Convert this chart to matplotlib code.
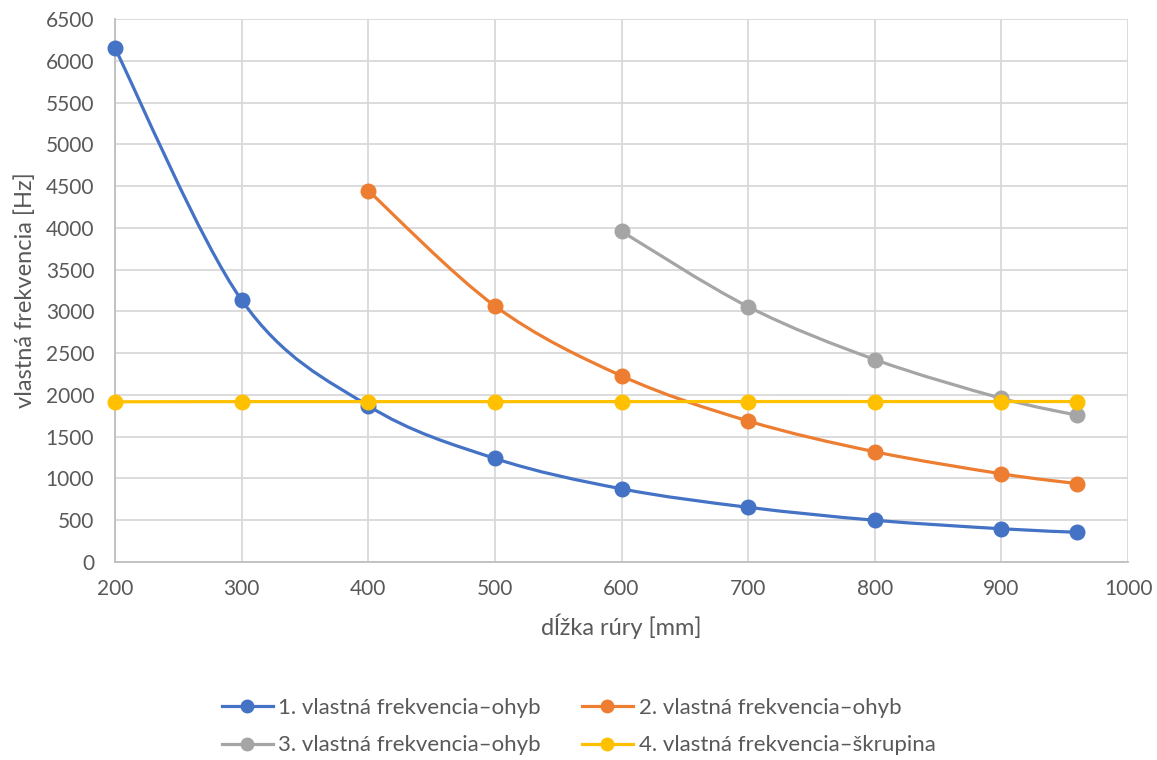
"""Vlastné frekvencie rúry v závislosti od dĺžky."""

import matplotlib

matplotlib.use("Agg")
import matplotlib.pyplot as plt
import numpy as np
from matplotlib.lines import Line2D
from matplotlib.patches import PathPatch
from matplotlib.path import Path

plt.rcParams["font.family"] = ["Lato", "DejaVu Sans"]

# data
dlzka_all = [200, 300, 400, 500, 600, 700, 800, 900, 960]
f1_ohyb = [6150, 3135, 1870, 1240, 876, 655, 500, 398, 356]

dlzka_2 = [400, 500, 600, 700, 800, 900, 960]
f2_ohyb = [4445, 3065, 2228, 1688, 1320, 1056, 938]

dlzka_3 = [600, 700, 800, 900, 960]
f3_ohyb = [3958, 3056, 2424, 1960, 1756]

f4_skrupina = [1918, 1920, 1920, 1920, 1920, 1921, 1921, 1921, 1921]

labels = [
    "1. vlastná frekvencia–ohyb",
    "2. vlastná frekvencia–ohyb",
    "3. vlastná frekvencia–ohyb",
    "4. vlastná frekvencia–škrupina",
]
colors = ["#4472C4", "#ED7D31", "#A5A5A5", "#FFC000"]
TEXT = "#595959"


def smooth_path(xs, ys):
    """Excel-like smoothed line as cubic Bezier segments (Catmull-Rom)."""
    p = np.column_stack([xs, ys]).astype(float)
    ext = np.vstack([p[0], p, p[-1]])
    verts = [p[0]]
    codes = [Path.MOVETO]
    for i in range(len(p) - 1):
        p0, p1, p2, p3 = ext[i], ext[i + 1], ext[i + 2], ext[i + 3]
        verts += [p1 + (p2 - p0) / 6, p2 - (p3 - p1) / 6, p2]
        codes += [Path.CURVE4] * 3
    return Path(verts, codes)


fig = plt.figure(figsize=(11.57, 7.6), dpi=100)
ax = fig.add_axes([0.0994, 0.2605, 0.8756, 0.7145])

series = [
    (dlzka_all, f1_ohyb),
    (dlzka_2, f2_ohyb),
    (dlzka_3, f3_ohyb),
    (dlzka_all, f4_skrupina),
]
handles = []
for k, ((xs, ys), color, label) in enumerate(zip(series, colors, labels)):
    patch = PathPatch(smooth_path(xs, ys), facecolor="none", edgecolor=color,
                      linewidth=2.3, zorder=3 + k, capstyle="round")
    ax.add_patch(patch)
    ax.plot(xs, ys, linestyle="none", marker="o", markersize=10.5, color=color,
            zorder=3 + k, clip_on=False)
    handles.append(Line2D([], [], color=color, linewidth=2.3, marker="o",
                          markersize=9, label=label))

ax.set_xlim(200, 1000)
ax.set_ylim(0, 6500)
ax.set_xticks(np.arange(200, 1001, 100))
ax.set_yticks(np.arange(0, 6501, 500))
ax.grid(True, color="#D9D9D9", linewidth=1.3, zorder=0)
ax.set_axisbelow(True)
for side in ["top", "right"]:
    ax.spines[side].set_visible(False)
for side in ["left", "bottom"]:
    ax.spines[side].set_color("#BFBFBF")
    ax.spines[side].set_linewidth(1.3)
ax.tick_params(length=0, labelsize=15, colors=TEXT)
ax.tick_params(axis="x", pad=12)
ax.tick_params(axis="y", pad=15)

ax.set_xlabel("dĺžka rúry [mm]", fontsize=17, color=TEXT, labelpad=11)
ax.set_ylabel("vlastná frekvencia [Hz]", fontsize=17, color=TEXT, labelpad=7)

order = [0, 2, 1, 3]
fig.legend([handles[i] for i in order], [labels[i] for i in order],
           loc="center", bbox_to_anchor=(0.5, 1 - 726.5 / 760), ncol=2,
           frameon=False, fontsize=16, labelcolor=TEXT, handlelength=2.3,
           handletextpad=0.25, columnspacing=1.85, labelspacing=0.8,
           borderpad=0.0)

fig.savefig("out.png", dpi=100)
